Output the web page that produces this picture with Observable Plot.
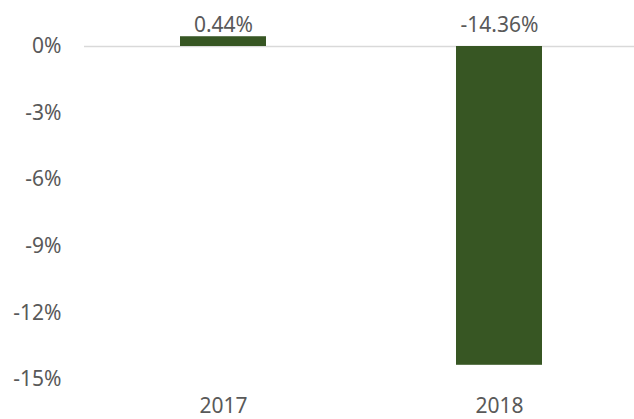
<!DOCTYPE html>
<html>
<head>
<meta charset="utf-8">
<script src="https://cdn.jsdelivr.net/npm/d3@7"></script>
<script src="https://cdn.jsdelivr.net/npm/@observablehq/plot@0.6"></script>
<style>
  html, body { margin: 0; padding: 0; background: #fff; }
  #chart svg { display: block; }
</style>
</head>
<body>
<div id="chart"></div>
<script>
const years = ["2017", "2018"];
const values = [0.44, -14.36];
const labels = ["0.44%", "-14.36%"];
const yTicks = [0, -3, -6, -9, -12, -15];

const data = years.map((y, i) => ({year: y, value: values[i], label: labels[i]}));

const font = "'Noto Sans', 'Open Sans', sans-serif";
const textColor = "#595959";

const chart = Plot.plot({
  width: 634,
  height: 419,
  marginTop: 46,
  marginBottom: 40,
  marginLeft: 84,
  marginRight: 0,
  style: {fontFamily: font, fontSize: "21px", color: textColor, background: "#fff"},
  x: {domain: years, range: [84, 637.6], paddingInner: 0.6875, paddingOuter: 0.34375, label: null},
  y: {domain: [-15, 0], label: null},
  marks: [
    Plot.ruleY([0], {stroke: "#d9d9d9", strokeWidth: 1.5}),
    Plot.barY(data, {x: "year", y: "value", fill: "#375623"}),
    Plot.text(data, {x: "year", frameAnchor: "top", dy: -21, text: "label", fill: textColor, fontSize: 21, lineAnchor: "middle"}),
    Plot.axisY({ticks: yTicks, tickFormat: d => `${d}%`, tickSize: 0, tickPadding: 23, fontSize: 21, fill: textColor}),
    Plot.axisX({tickSize: 0, tickPadding: 19, fontSize: 21, fill: textColor})
  ]
});
document.getElementById("chart").appendChild(chart);
</script>
</body>
</html>
